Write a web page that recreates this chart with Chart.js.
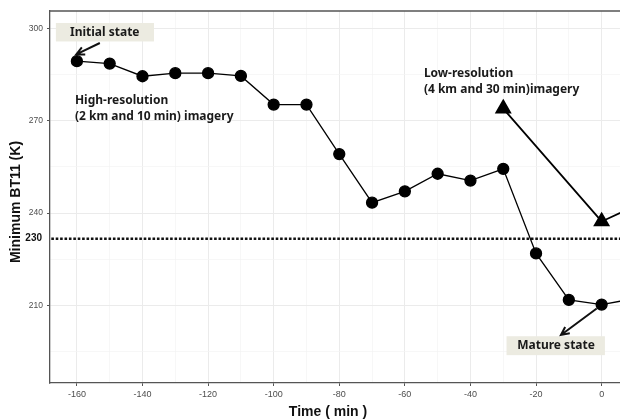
<!DOCTYPE html>
<html>
<head>
<meta charset="utf-8">
<script src="https://cdn.jsdelivr.net/npm/chart.js@4.4.1/dist/chart.umd.min.js"></script>
<style>
  html, body { margin: 0; padding: 0; background: #fff; overflow: hidden; }
  #wrap { width: 620px; height: 420px; }
</style>
</head>
<body>
<div id="wrap"><canvas id="chart" width="620" height="420"></canvas></div>
<script>
// High-resolution (10 min) minimum BT11 values
const hiTime = [-160, -150, -140, -130, -120, -110, -100, -90, -80, -70, -60, -50, -40, -30, -20, -10, 0, 10];
const hiBT = [289.4, 288.6, 284.5, 285.5, 285.5, 284.6, 275.3, 275.3, 259.2, 243.4, 247.1, 252.8, 250.6, 254.4, 226.9, 211.8, 210.3, 212.2];

// Low-resolution (30 min) values
const loTime = [-30, 0, 30];
const loBT = [274.0, 237.3, 252.0];

// threshold line (labelled 230)
const threshold = 231.7;
const thresholdLabel = '230';

// axis ticks
const xMajor = [-160, -140, -120, -100, -80, -60, -40, -20, 0];
const xMinor = [-150, -130, -110, -90, -70, -50, -30, -10];
const yMajor = [210, 240, 270, 300];
const yMinor = [195, 225, 255, 285];

const tickFont = { family: 'Liberation Sans, Arial, sans-serif', size: 9 };
const yTickFont = { family: 'Liberation Sans, Arial, sans-serif', size: 8.5 };
const noteFont = 'bold 12px "Noto Sans", sans-serif';

function toXY(xs, ys) {
    return xs.map((x, i) => ({ x: x, y: ys[i] }));
}

function arrow(c, x1, y1, x2, y2) {
    const ang = Math.atan2(y2 - y1, x2 - x1);
    const len = 9;
    c.beginPath();
    c.moveTo(x1, y1);
    c.lineTo(x2, y2);
    c.moveTo(x2 - len * Math.cos(ang - 0.45), y2 - len * Math.sin(ang - 0.45));
    c.lineTo(x2, y2);
    c.lineTo(x2 - len * Math.cos(ang + 0.45), y2 - len * Math.sin(ang + 0.45));
    c.stroke();
}

const notes = {
    id: 'notes',
    afterDatasetsDraw(chart) {
        const c = chart.ctx;
        const xs = chart.scales.x, ys = chart.scales.y;
        const area = chart.chartArea;
        const px = v => xs.getPixelForValue(v);
        const py = v => ys.getPixelForValue(v);
        c.save();

        // top panel border
        c.strokeStyle = '#555';
        c.lineWidth = 1.3;
        c.beginPath();
        c.moveTo(area.left, area.top);
        c.lineTo(area.right, area.top);
        c.stroke();

        // label boxes
        c.fillStyle = '#ecebe1';
        c.fillRect(px(-166.4), py(301.8), px(-136.5) - px(-166.4), py(295.8) - py(301.8));
        c.fillRect(px(-29), py(200.0), px(1.0) - px(-29), py(193.85) - py(200.0));

        // arrows
        c.strokeStyle = '#111';
        c.lineWidth = 2;
        arrow(c, px(-153), py(295.3), px(-160.2), py(291.6));
        arrow(c, px(-1.5), py(209), px(-12.4), py(200.4));

        // text notes
        c.fillStyle = '#1a1a1a';
        c.font = noteFont;
        c.textBaseline = 'middle';
        c.textAlign = 'center';
        c.fillText('Initial state', px(-151.5), py(298.7));
        c.fillText('Mature state', px(-13.9), py(196.9));
        c.textAlign = 'left';
        c.fillText('High-resolution', px(-160.6), py(276.7));
        c.fillText('(2 km and 10 min) imagery', px(-160.6), py(271.5));
        c.fillText('Low-resolution', px(-54.2), py(285.5));
        c.fillText('(4 km and 30 min)imagery', px(-54.2), py(280.3));

        // threshold label on the y axis
        c.font = 'bold 10px "Liberation Sans", Arial, sans-serif';
        c.fillStyle = '#111';
        c.textAlign = 'right';
        c.fillText(thresholdLabel, 42, py(threshold));

        // axis titles
        c.font = 'bold 14px "Liberation Sans", Arial, sans-serif';
        c.textAlign = 'center';
        c.fillText('Time ( min )', 328, 412);
        c.save();
        c.translate(16, 202);
        c.rotate(-Math.PI / 2);
        c.fillText('Minimum BT11 (K)', 0, 0);
        c.restore();

        c.restore();
    }
};

const ctx = document.getElementById('chart').getContext('2d');
const myChart = new Chart(ctx, {
    type: 'line',
    data: {
        datasets: [{
            label: 'threshold',
            data: [{ x: -200, y: threshold }, { x: 50, y: threshold }],
            borderColor: '#111',
            borderWidth: 2.6,
            borderDash: [2.6, 1.8],
            pointRadius: 0,
            clip: 0
        }, {
            label: 'High-resolution',
            data: toXY(hiTime, hiBT),
            borderColor: '#000',
            backgroundColor: '#000',
            borderWidth: 1.3,
            pointRadius: 5.5,
            pointStyle: 'circle'
        }, {
            label: 'Low-resolution',
            data: toXY(loTime, loBT),
            borderColor: '#000',
            backgroundColor: '#000',
            borderWidth: 1.8,
            pointRadius: 8,
            pointStyle: 'triangle'
        }]
    },
    options: {
        responsive: false,
        animation: false,
        events: [],
        layout: { autoPadding: false, padding: { top: 11, right: 0, left: 0, bottom: 0 } },
        plugins: { legend: { display: false }, tooltip: { enabled: false } },
        scales: {
            x: {
                type: 'linear',
                min: -168.2,
                max: 5.6,
                afterFit: s => { s.height = 37; },
                afterBuildTicks: s => {
                    s.ticks = xMajor.concat(xMinor).sort((a, b) => a - b).map(v => ({ value: v }));
                },
                border: { display: true, color: '#555', width: 1.3 },
                grid: {
                    color: c => xMajor.includes(c.tick.value) ? '#ebebeb' : '#f3f3f3',
                    lineWidth: c => xMajor.includes(c.tick.value) ? 1 : 0.7,
                    tickColor: c => xMajor.includes(c.tick.value) ? '#555' : 'rgba(0,0,0,0)',
                    tickLength: 3
                },
                ticks: {
                    autoSkip: false,
                    maxRotation: 0,
                    padding: 3,
                    color: '#4d4d4d',
                    font: tickFont,
                    callback: v => xMajor.includes(v) ? String(v) : ''
                }
            },
            y: {
                type: 'linear',
                min: 184.8,
                max: 305.7,
                afterFit: s => { s.width = 50; },
                afterBuildTicks: s => {
                    s.ticks = yMajor.concat(yMinor).sort((a, b) => a - b).map(v => ({ value: v }));
                },
                border: { display: true, color: '#555', width: 1.3 },
                grid: {
                    color: c => yMajor.includes(c.tick.value) ? '#ebebeb' : '#f3f3f3',
                    lineWidth: c => yMajor.includes(c.tick.value) ? 1 : 0.7,
                    tickColor: c => yMajor.includes(c.tick.value) ? '#555' : 'rgba(0,0,0,0)',
                    tickLength: 3
                },
                ticks: {
                    autoSkip: false,
                    padding: 4,
                    color: '#4d4d4d',
                    font: yTickFont,
                    callback: v => yMajor.includes(v) ? String(v) : ''
                }
            }
        }
    },
    plugins: [notes]
});
</script>
</body>
</html>
